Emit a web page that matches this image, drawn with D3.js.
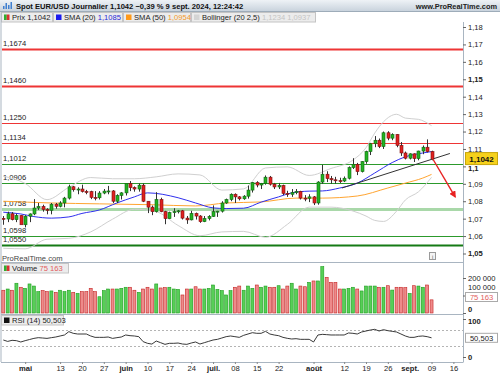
<!DOCTYPE html>
<html>
<head>
<meta charset="utf-8">
<script src="https://cdn.jsdelivr.net/npm/d3@7"></script>
<style>
body { margin: 0; background: #fff; }
svg { display: block; font-family: "Liberation Sans", Arial, sans-serif; }
</style>
</head>
<body>
<div id="chart"></div>
<script>
// daily sessions, 24 avr. -> 9 sept. 2024 (index 0..98)
const opens = [
	1.0702,1.0698,1.0728,1.0694,1.0718, 1.0665,1.0714,1.0727,1.0761,1.0770,
	1.0753,1.0748,1.0783,1.0771,1.0790, 1.0818,1.0883,1.0866,1.0870,1.0856,
	1.0855,1.0822,1.0820,1.0847,1.0858, 1.0859,1.0800,1.0833,1.0848,1.0902,
	1.0878,1.0870,1.0892,1.0800,1.0766, 1.0740,1.0810,1.0740,1.0700,1.0735,
	1.0740,1.0745,1.0703,1.0693,1.0730, 1.0715,1.0683,1.0701,1.0713,1.0740,
	1.0743,1.0790,1.0810,1.0840,1.0825, 1.0814,1.0829,1.0864,1.0907,1.0893,
	1.0902,1.0938,1.0898,1.0882,1.0890, 1.0845,1.0840,1.0850,1.0856,1.0818,
	1.0817,1.0825,1.0790,1.0910,1.0955, 1.0930,1.0923,1.0918,1.0916,1.0932,
	1.0993,1.1012,1.0970,1.1027,1.1085, 1.1130,1.1150,1.1114,1.1193,1.1162,
	1.1183,1.1121,1.1077,1.1047,1.1072, 1.1045,1.1088,1.1110,1.1085
];
const highs = [
	1.0715,1.0740,1.0738,1.0728,1.0720, 1.0720,1.0730,1.0812,1.0790,1.0780,
	1.0760,1.0790,1.0790,1.0800,1.0825, 1.0895,1.0888,1.0880,1.0895,1.0865,
	1.0860,1.0858,1.0858,1.0870,1.0888, 1.0864,1.0840,1.0852,1.0902,1.0916,
	1.0885,1.0902,1.0902,1.0800,1.0775, 1.0852,1.0820,1.0745,1.0740,1.0760,
	1.0750,1.0750,1.0715,1.0745,1.0735, 1.0720,1.0715,1.0720,1.0776,1.0745,
	1.0800,1.0815,1.0845,1.0845,1.0830, 1.0835,1.0890,1.0910,1.0915,1.0905,
	1.0948,1.0945,1.0905,1.0905,1.0895, 1.0860,1.0870,1.0870,1.0860,1.0835,
	1.0840,1.0830,1.0915,1.1009,1.0972, 1.0945,1.0940,1.0935,1.0942,1.1000,
	1.1047,1.1020,1.1030,1.1090,1.1135, 1.1174,1.1160,1.1200,1.1202,1.1190,
	1.1185,1.1140,1.1085,1.1075,1.1075, 1.1090,1.1120,1.1155,1.1090
];
const lows = [
	1.0665,1.0680,1.0690,1.0680,1.0668, 1.0650,1.0680,1.0720,1.0750,1.0740,
	1.0725,1.0725,1.0757,1.0765,1.0765, 1.0810,1.0855,1.0840,1.0850,1.0840,
	1.0812,1.0805,1.0810,1.0840,1.0840, 1.0790,1.0790,1.0810,1.0833,1.0858,
	1.0855,1.0855,1.0795,1.0732,1.0720, 1.0735,1.0737,1.0668,1.0700,1.0710,
	1.0730,1.0695,1.0670,1.0690,1.0695, 1.0676,1.0680,1.0690,1.0710,1.0710,
	1.0735,1.0785,1.0800,1.0790,1.0805, 1.0808,1.0815,1.0850,1.0880,1.0870,
	1.0895,1.0890,1.0870,1.0870,1.0835, 1.0825,1.0825,1.0840,1.0810,1.0800,
	1.0795,1.0778,1.0780,1.0900,1.0910, 1.0900,1.0900,1.0905,1.0910,1.0925,
	1.0985,1.0950,1.0965,1.1015,1.1065, 1.1110,1.1105,1.1100,1.1150,1.1150,
	1.1110,1.1060,1.1040,1.1040,1.1025, 1.1035,1.1070,1.1080,1.1035
];
const closes = [
	1.0698,1.0728,1.0694,1.0718,1.0665, 1.0714,1.0727,1.0761,1.0770,1.0753,
	1.0748,1.0783,1.0771,1.0790,1.0818, 1.0883,1.0866,1.0870,1.0856,1.0855,
	1.0822,1.0820,1.0847,1.0858,1.0859, 1.0800,1.0833,1.0848,1.0902,1.0878,
	1.0870,1.0892,1.0800,1.0766,1.0740, 1.0810,1.0740,1.0700,1.0735,1.0740,
	1.0745,1.0703,1.0693,1.0730,1.0715, 1.0683,1.0701,1.0713,1.0740,1.0743,
	1.0790,1.0810,1.0840,1.0825,1.0814, 1.0829,1.0864,1.0907,1.0893,1.0902,
	1.0938,1.0898,1.0882,1.0890,1.0845, 1.0840,1.0850,1.0856,1.0818,1.0817,
	1.0825,1.0790,1.0910,1.0955,1.0930, 1.0923,1.0918,1.0916,1.0932,1.0993,
	1.1012,1.0970,1.1027,1.1085,1.1130, 1.1150,1.1114,1.1193,1.1162,1.1183,
	1.1121,1.1077,1.1047,1.1072,1.1045, 1.1088,1.1110,1.1085,1.1042
];
// volume in thousands
const volumesK = [
	130,137,130,170,147,141,166,154,122,128,
	122,126,118,130,122,130,118,112,122,122,
	141,122,93,128,137,137,137,141,147,147,
	130,118,137,147,137,166,143,145,147,137,
	135,103,137,137,150,137,137,141,160,135,
	128,103,128,147,154,130,154,141,160,147,
	154,147,147,156,137,154,170,137,154,150,
	175,183,183,265,204,175,175,137,137,141,
	147,137,126,154,154,154,147,147,156,131,
	147,147,145,112,156,154,147,160,75.163
];
const rsi = [
	44.7,41,43.9,43,39.5,43,46,49,50.9,50,
	49,50.9,52.6,55.3,57.9,66.7,62.3,60.5,60.5,60.5,
	55.3,51.7,51.7,51.7,52.6,49,50.9,52.6,57.9,56.1,
	55.3,53.5,40.4,36,34,42,37.7,33.3,36,36,
	36.8,34.2,33.3,36.8,39.5,34.2,37.7,41.2,44.7,46.5,
	50,53.5,55.3,53.5,51.7,57,60.5,64,62.3,62.3,
	67.5,60.5,57.9,56.1,51.7,49.1,47.4,48.2,46.5,46.5,
	46.5,39.5,57.9,59.6,58.8,57.9,57.9,57.9,57.9,63.2,
	62.3,60.5,65.8,68.4,71,72.8,68.4,71.9,69.3,67.5,
	65.8,60.5,55.3,51.7,51.7,54.4,55.3,53.5,50.503
];

// indicators at some sessions
const sma20Idx = [0,4,7,11,15,18,22,26,30,33,40,44,48,51,55,59,63,66,70,73,77,81,85,89,92,96,98];
const sma20Vals = [1.0737,1.0727,1.0712,1.0703,1.0710,1.0730,1.0750,1.0790,1.0825,1.0848,1.0820,1.0790,1.0762,1.0758,1.0760,1.0795,1.0825,1.0848,1.0858,1.0859,1.0876,1.0904,1.0962,1.1022,1.1055,1.1077,1.1085];
const sma50Idx = [0,11,22,34,44,51,59,67,73,81,88,92,96,98];
const sma50Vals = [1.0800,1.0790,1.0785,1.0780,1.0773,1.0790,1.0796,1.0818,1.0818,1.0830,1.0876,1.0904,1.0933,1.0954];
const bollIdx = [0,5,10,15,20,25,30,35,40,45,50,55,60,65,70,75,80,83,85,87,90,92,95,98];
const bollUpper = [1.0944,1.0902,1.0809,1.0880,1.0936,1.0929,1.0929,1.0940,1.0957,1.0951,1.0864,1.0871,1.0991,1.0997,1.0948,1.0988,1.1036,1.1107,1.1191,1.1256,1.1299,1.1277,1.1270,1.1234];
const bollLower = [1.0530,1.0527,1.0582,1.0587,1.0624,1.0697,1.0754,1.0740,1.0661,1.0602,1.0624,1.0627,1.0593,1.0667,1.0766,1.0766,1.0744,1.0715,1.0690,1.0684,1.0743,1.0807,1.0854,1.0937];

// drawn levels
const resistances = [1.1674, 1.1460, 1.1250, 1.1134];
const supports = [1.1012, 1.0906, 1.0758, 1.0598, 1.0550];
const trendIdx = [77.5, 102.2];
const trendVals = [1.0876, 1.1074];
const arrowIdx = [98.1, 103.4];
const arrowVals = [1.1051, 1.0825];

// axes
const priceTicks = [1.05,1.06,1.07,1.08,1.09,1.10,1.11,1.12,1.13,1.14,1.15,1.16,1.17,1.18];
const volumeTicks = [0, 100000, 200000];
const rsiTicks = [0, 100];
const dateTickIdx = [5,13,18,23,28,33,38,43,48,53,58,63,71,78,83,88,93,98,103];
const dateTickLabels = ["mai","13","20","27","juin","10","17","24","juil.","08","15","22","août","12","19","26","sept.","09","16"];

const W = 500, H = 375;
const PLOT_L = 2, PLOT_R = 463;
const fr = d3.formatLocale({ decimal: ",", thousands: " ", grouping: [3], currency: ["", ""] });

const svg = d3.select("#chart").append("svg")
	.attr("width", W)
	.attr("height", H);

const defs = svg.append("defs");
const hdrGrad = defs.append("linearGradient").attr("id", "hdr").attr("x1", 0).attr("x2", 0).attr("y1", 0).attr("y2", 1);
hdrGrad.append("stop").attr("offset", "0%").attr("stop-color", "#eef2f6");
hdrGrad.append("stop").attr("offset", "100%").attr("stop-color", "#c9d3dd");
defs.append("clipPath").attr("id", "clipPrice")
	.append("rect").attr("x", PLOT_L).attr("y", 22).attr("width", PLOT_R - PLOT_L).attr("height", 240);
defs.append("marker")
	.attr("id", "arrowHead")
	.attr("viewBox", "0 0 10 10")
	.attr("refX", 8).attr("refY", 5)
	.attr("markerWidth", 5).attr("markerHeight", 5)
	.attr("orient", "auto")
	.append("path").attr("d", "M0,0 L10,5 L0,10 z").attr("fill", "#e82222");

const x = d3.scaleLinear().domain([-0.3, 105.2]).range([PLOT_L, PLOT_R]);
const yPrice = d3.scaleLinear().domain([1.05, 1.18]).range([253.5, 27]);
const yVol = d3.scaleLinear().domain([0, 200000]).range([313, 278]);
const yRsi = d3.scaleLinear().domain([0, 100]).range([357, 319]);

// header
svg.append("rect").attr("x", 0).attr("y", 0).attr("width", W).attr("height", 11).attr("fill", "url(#hdr)");
svg.append("line").attr("x1", 0).attr("x2", W).attr("y1", 11.5).attr("y2", 11.5).attr("stroke", "#9eacb9");
[[3, 6], [5.5, 3], [8, 5], [10.5, 2]].forEach(b => {
	svg.append("rect").attr("x", b[0]).attr("y", b[1]).attr("width", 1.5).attr("height", 9 - b[1]).attr("fill", "#3f7fd0");
});
svg.append("text").attr("x", 16).attr("y", 8.5)
	.attr("font-size", 7.6).attr("font-weight", "bold").attr("fill", "#111")
	.text("Spot EUR/USD Journalier 1,1042 \u22120,39 % 9 sept. 2024, 12:24:42");
svg.append("text").attr("x", 497).attr("y", 8.5).attr("text-anchor", "end")
	.attr("font-size", 7.4).attr("font-weight", "bold").attr("fill", "#222")
	.text("www.ProRealTime.com");

function legendBox (x0, y0, w, swatch, parts) {
	const g = svg.append("g");
	g.append("rect").attr("x", x0 + 0.5).attr("y", y0 + 0.5).attr("width", w).attr("height", 9.5)
		.attr("fill", "#ececec").attr("stroke", "#c4c4c4");
	swatch(g, x0 + 3, y0 + 2.5);
	const t = g.append("text").attr("x", x0 + 11).attr("y", y0 + 8).attr("font-size", 7.6);
	parts.forEach(p => t.append("tspan").attr("fill", p[1]).text(p[0]));
	return g;
}
const square = c => (g, sx, sy) => g.append("rect").attr("x", sx).attr("y", sy).attr("width", 5.5).attr("height", 5.5).attr("fill", c);
const split = (g, sx, sy) => {
	g.append("rect").attr("x", sx).attr("y", sy).attr("width", 2.75).attr("height", 5.5).attr("fill", "#2fae2f");
	g.append("rect").attr("x", sx + 2.75).attr("y", sy).attr("width", 2.75).attr("height", 5.5).attr("fill", "#d93030");
};

legendBox(1, 12, 51, split, [["Prix 1,1042", "#222"]]);
legendBox(53, 12, 69, square("#1a1aee"), [["SMA (20) ", "#222"], ["1,1085", "#2a2ad8"]]);
legendBox(123, 12, 67, square("#ff9a1a"), [["SMA (50) ", "#222"], ["1,0954", "#f39a2a"]]);
legendBox(191, 12, 124, square("#d4d4d4"), [["Bollinger (20 2,5) ", "#222"], ["1,1234  1,0937", "#c4c4c4"]]);

// frames
const frame = svg.append("g").attr("stroke", "#a9b5c1").attr("fill", "none");
frame.append("line").attr("x1", 1).attr("x2", 1).attr("y1", 12).attr("y2", 362);
frame.append("line").attr("x1", PLOT_R + 0.5).attr("x2", PLOT_R + 0.5).attr("y1", 22).attr("y2", 362);
[262.5, 314.5, 362.5].forEach(yy => frame.append("line").attr("x1", 1).attr("x2", PLOT_R + 0.5).attr("y1", yy).attr("y2", yy));

// price panel
const price = svg.append("g").attr("clip-path", "url(#clipPrice)");

function levelStyle (v) {
	if (v === 1.1674 || v === 1.1460) return { c: "#ee3535", w: 2 };
	if (v === 1.0758) return { c: "#a9d8a9", w: 3 };
	if (v === 1.0550) return { c: "#157a15", w: 2 };
	if (v > 1.11) return { c: "#ee3535", w: 1 };
	return { c: "#2c9a2c", w: 1 };
}
resistances.concat(supports).forEach(v => {
	const st = levelStyle(v);
	price.append("line")
		.attr("x1", PLOT_L).attr("x2", PLOT_R)
		.attr("y1", Math.round(yPrice(v)) + 0.5).attr("y2", Math.round(yPrice(v)) + 0.5)
		.attr("stroke", st.c).attr("stroke-width", st.w);
	price.append("text")
		.attr("x", 3).attr("y", Math.round(yPrice(v)) - 3)
		.attr("font-size", 7.6).attr("fill", "#222")
		.text(fr.format(".4f")(v));
});

const curveLine = (idx, vals) => d3.line()
	.x((d, i) => x(idx[i]))
	.y(d => yPrice(d))
	.curve(d3.curveMonotoneX)(vals);

price.append("path").attr("d", curveLine(bollIdx, bollUpper)).attr("fill", "none").attr("stroke", "#d0d0d0");
price.append("path").attr("d", curveLine(bollIdx, bollLower)).attr("fill", "none").attr("stroke", "#d0d0d0");
price.append("path").attr("d", curveLine(sma50Idx, sma50Vals)).attr("fill", "none").attr("stroke", "#ffa531");
price.append("path").attr("d", curveLine(sma20Idx, sma20Vals)).attr("fill", "none").attr("stroke", "#3030ee");

// candles
const candles = price.append("g").selectAll("g")
	.data(closes.map((c, i) => ({ i, o: opens[i], h: highs[i], l: lows[i], c })))
	.enter()
	.append("g");
candles.append("line")
	.attr("x1", d => Math.round(x(d.i)) + 0.5).attr("x2", d => Math.round(x(d.i)) + 0.5)
	.attr("y1", d => yPrice(d.h)).attr("y2", d => yPrice(d.l))
	.attr("stroke", "#333");
candles.append("rect")
	.attr("x", d => Math.round(x(d.i)) - 1)
	.attr("y", d => yPrice(Math.max(d.o, d.c)))
	.attr("width", 3)
	.attr("height", d => Math.max(1, Math.abs(yPrice(d.o) - yPrice(d.c))))
	.attr("fill", d => d.c >= d.o ? "#22b322" : "#e02020")
	.attr("stroke", d => d.c >= d.o ? "#126612" : "#7a1010")
	.attr("stroke-width", 0.6);

price.append("line")
	.attr("x1", x(trendIdx[0])).attr("x2", x(trendIdx[1]))
	.attr("y1", yPrice(trendVals[0])).attr("y2", yPrice(trendVals[1]))
	.attr("stroke", "#333").attr("stroke-width", 1);
price.append("line")
	.attr("x1", x(arrowIdx[0])).attr("x2", x(arrowIdx[1]))
	.attr("y1", yPrice(arrowVals[0])).attr("y2", yPrice(arrowVals[1]))
	.attr("stroke", "#e82222").attr("stroke-width", 1.4)
	.attr("marker-end", "url(#arrowHead)");

svg.append("text").attr("x", 2).attr("y", 261).attr("font-size", 7.6).attr("fill", "#444").text("ProRealTime.com");
svg.append("rect").attr("x", 429.5).attr("y", 252.5).attr("width", 6).attr("height", 7).attr("fill", "#f4f4f4").attr("stroke", "#9a9a9a");
svg.append("text").attr("x", 432.5).attr("y", 258.5).attr("text-anchor", "middle").attr("font-size", 5.5).attr("fill", "#555").text("i");

// right price axis
const axisPrice = svg.append("g")
	.attr("transform", `translate(${PLOT_R},0)`)
	.call(d3.axisRight(yPrice).tickValues(priceTicks).tickSize(3).tickPadding(2).tickFormat(fr.format(".2~f")));
axisPrice.select(".domain").remove();
axisPrice.selectAll(".tick line").attr("stroke", "#666");
axisPrice.selectAll(".tick text")
	.attr("font-size", 7.6).attr("fill", "#222").attr("font-family", "Liberation Sans, Arial, sans-serif")
	.attr("dy", d => Math.round(d * 100) === 110 ? "0.6em" : "0.32em")
	.attr("font-weight", d => Math.round(d * 100) % 5 === 0 ? "bold" : "normal");

const last = closes[closes.length - 1];
svg.append("rect").attr("x", 465.5).attr("y", yPrice(last) - 6.5).attr("width", 32).attr("height", 12)
	.attr("fill", "#f6d11c").attr("stroke", "#c8a60c");
svg.append("text").attr("x", 481.5).attr("y", yPrice(last) + 2.5).attr("text-anchor", "middle")
	.attr("font-size", 8).attr("font-weight", "bold").attr("fill", "#111").text(fr.format(".4f")(last));

// volume panel
const volG = svg.append("g");
volG.selectAll("rect")
	.data(volumesK)
	.enter()
	.append("rect")
	.attr("x", (d, i) => x(i) - 1.5)
	.attr("y", d => yVol(d * 1000))
	.attr("width", 3)
	.attr("height", d => yVol(0) - yVol(d * 1000))
	.attr("fill", (d, i) => closes[i] >= opens[i] ? "#57cf57" : "#ee8a8a")
	.attr("stroke", (d, i) => closes[i] >= opens[i] ? "#1e9e1e" : "#c42424")
	.attr("stroke-width", 0.6);
legendBox(1, 263, 67, split, [["Volume ", "#222"], ["75 163", "#e25c5c"]]);

const axisVol = svg.append("g")
	.attr("transform", `translate(${PLOT_R},0)`)
	.call(d3.axisRight(yVol).tickValues(volumeTicks).tickSize(3).tickPadding(2).tickFormat(fr.format(",")));
axisVol.select(".domain").remove();
axisVol.selectAll(".tick line").attr("stroke", "#666");
axisVol.selectAll(".tick text")
	.attr("font-size", 7.6).attr("fill", "#222").attr("font-family", "Liberation Sans, Arial, sans-serif")
	.attr("font-weight", d => d === 0 ? "bold" : "normal")
	.attr("dy", d => d === 0 ? "-0.15em" : d === 100000 ? "-0.75em" : "0.32em");

const lastVol = volumesK[volumesK.length - 1] * 1000;
svg.append("rect").attr("x", 465.5).attr("y", 292.5).attr("width", 32).attr("height", 9)
	.attr("fill", "#fff").attr("stroke", "#aaa");
svg.append("text").attr("x", 481.5).attr("y", 299.7).attr("text-anchor", "middle")
	.attr("font-size", 7.6).attr("fill", "#e25c5c").text(fr.format(",")(Math.round(lastVol)));

// rsi panel
[70, 30].forEach(v => {
	svg.append("line").attr("x1", PLOT_L).attr("x2", PLOT_R)
		.attr("y1", Math.round(yRsi(v)) + 0.5).attr("y2", Math.round(yRsi(v)) + 0.5)
		.attr("stroke", "#b4b4b4").attr("stroke-dasharray", "2,2");
});
svg.append("path")
	.attr("d", d3.line().x((d, i) => x(i)).y(d => yRsi(d))(rsi))
	.attr("fill", "none").attr("stroke", "#222").attr("stroke-width", 0.9);
legendBox(1, 315, 62, square("#111"), [["RSI (14) 50,503", "#222"]]);

const axisRsi = svg.append("g")
	.attr("transform", `translate(${PLOT_R},0)`)
	.call(d3.axisRight(yRsi).tickValues(rsiTicks).tickSize(3).tickPadding(2));
axisRsi.select(".domain").remove();
axisRsi.selectAll(".tick line").attr("stroke", "#666");
axisRsi.selectAll(".tick text")
	.attr("font-size", 7.6).attr("font-weight", "bold").attr("fill", "#222").attr("font-family", "Liberation Sans, Arial, sans-serif")
	.attr("dy", d => d === 100 ? "0.6em" : "0.32em");

const lastRsi = rsi[rsi.length - 1];
svg.append("rect").attr("x", 465.5).attr("y", yRsi(lastRsi) - 4.5).attr("width", 32).attr("height", 9)
	.attr("fill", "#fff").attr("stroke", "#aaa");
svg.append("text").attr("x", 481.5).attr("y", yRsi(lastRsi) + 2.7).attr("text-anchor", "middle")
	.attr("font-size", 7.6).attr("fill", "#222").text(fr.format(".3f")(lastRsi));

// date axis
const months = ["mai", "juin", "juil.", "août", "sept."];
const axisDate = svg.append("g")
	.attr("transform", "translate(0,362)")
	.call(d3.axisBottom(x).tickValues(dateTickIdx).tickSize(2).tickPadding(2).tickFormat((d, i) => dateTickLabels[i]));
axisDate.select(".domain").remove();
axisDate.selectAll(".tick line").attr("stroke", "#888");
axisDate.selectAll(".tick text")
	.attr("font-size", 7.6).attr("fill", "#222").attr("font-family", "Liberation Sans, Arial, sans-serif")
	.attr("font-weight", (d, i) => months.includes(dateTickLabels[i]) ? "bold" : "normal");
</script>
</body>
</html>
